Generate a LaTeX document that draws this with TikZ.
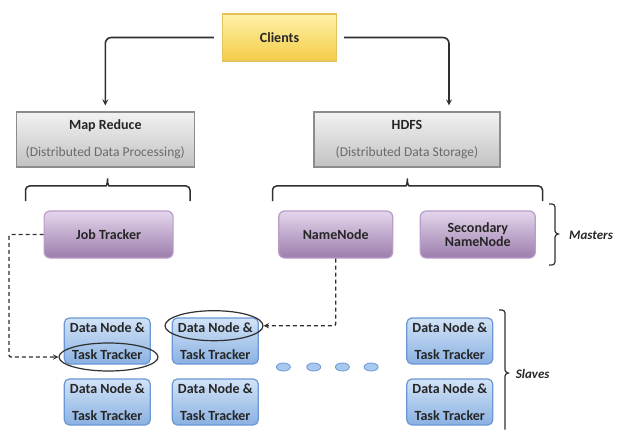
\documentclass[tikz,border=0pt]{standalone}
\usepackage{fontspec}
\setmainfont{Carlito}
\usetikzlibrary{shapes.geometric}
\usetikzlibrary{arrows}

\definecolor{txtgray}{HTML}{262626}
\definecolor{subgray}{HTML}{6A6A6A}
\definecolor{linegray}{HTML}{303030}
\definecolor{clienttop}{HTML}{FFF1A8}
\definecolor{clientbot}{HTML}{F4CC48}
\definecolor{clientline}{HTML}{E6C25C}
\definecolor{layertop}{HTML}{F2F2F2}
\definecolor{layerbot}{HTML}{C2C2C2}
\definecolor{layerline}{HTML}{8C8C8C}
\definecolor{mastertop}{HTML}{E4D6EC}
\definecolor{masterbot}{HTML}{9C7DAC}
\definecolor{masterline}{HTML}{B99CC7}
\definecolor{slavetop}{HTML}{D2E3F7}
\definecolor{slavebot}{HTML}{8AB1E2}
\definecolor{slaveline}{HTML}{6A97D6}
\definecolor{dotfill}{HTML}{A9C8EE}

\newcommand{\layersub}[1]{{\fontsize{13.5}{14}\selectfont\mdseries\color{subgray}#1}}

\begin{document}
\begin{tikzpicture}[x=1pt,y=-1pt,
    box/.style={draw, line width=1.2pt, inner sep=0pt, align=center, text=txtgray,
        font=\fontsize{14}{14}\selectfont\bfseries},
    clientbox/.style={box, draw=clientline, top color=clienttop, bottom color=clientbot,
        minimum width=114pt, minimum height=47pt},
    layerbox/.style={box, draw=layerline, top color=layertop, bottom color=layerbot,
        minimum height=55pt},
    masterbox/.style={box, rounded corners=6pt, draw=masterline, top color=mastertop,
        bottom color=masterbot, minimum height=47pt},
    slavebox/.style={box, rounded corners=5pt, draw=slaveline, top color=slavetop,
        bottom color=slavebot, minimum width=86pt, minimum height=46pt},
    gapdot/.style={ellipse, draw=slaveline, fill=dotfill, line width=0.8pt,
        minimum width=14pt, minimum height=8pt, inner sep=0pt},
    ring/.style={ellipse, draw=linegray, line width=1.2pt, inner sep=0pt},
    feed/.style={draw=linegray, line width=1.6pt, rounded corners=6pt, -stealth},
    ctrl/.style={draw=linegray, dash pattern=on 4pt off 3pt, line width=1.4pt,
        rounded corners=2pt, -stealth},
    grp/.style={draw=linegray, line width=1.5pt, rounded corners=4pt},
    grplabel/.style={anchor=west, inner sep=0pt, text=txtgray,
        font=\fontsize{13}{13}\selectfont\bfseries\itshape},
]
    \useasboundingbox (0,0) rectangle (617,430);

    % top level
    \node[clientbox] (cl) at (279.5,37.5) {Clients};
    \node[layerbox, minimum width=178pt] (mr) at (105.3,139.5)
        {Map Reduce\\[13pt]\layersub{(Distributed Data Processing)}};
    \node[layerbox, minimum width=186pt] (hdfs) at (407,139.5)
        {HDFS\\[13pt]\layersub{(Distributed Data Storage)}};

    \draw[feed, shorten <=8pt, shorten >=6pt] (cl.west) -| (mr.north);
    \draw[feed, shorten <=7pt, shorten >=6pt] (cl.east) -| ([xshift=42pt]hdfs.north);

    % masters
    \node[masterbox, minimum width=129pt] (jt) at (108.6,234.5) {Job Tracker};
    \node[masterbox, minimum width=114pt] (nn) at (335.7,234.5) {NameNode};
    \node[masterbox, minimum width=115pt] (snn) at (477.8,234.5) {Secondary\\NameNode};

    \draw[grp] (25.5,201) -- (25.5,186) -- (102,186)
        .. controls (106,186) and (107.5,184) .. (107.5,176)
        .. controls (107.5,184) and (109,186) .. (113,186) -- (190,186) -- (190,201);
    \draw[grp] (272.5,201) -- (272.5,186) -- (402,186)
        .. controls (406,186) and (407.3,184) .. (407.3,176)
        .. controls (407.3,184) and (409,186) .. (413,186) -- (542.5,186) -- (542.5,201);
    \draw[grp, line width=1.2pt, rounded corners=3pt] (549,204) -- (555,204) -- (555,228)
        .. controls (555,232) and (556.5,234) .. (561,234)
        .. controls (556.5,234) and (555,236) .. (555,240) -- (555,265) -- (549,265);
    \node[grplabel] (mlabel) at (569,235) {Masters};

    % slaves
    \foreach \col/\x in {1/107.3, 2/215.3, 3/449.8}{
        \node[slavebox] (dn\col a) at (\x,341) {Data Node \&\\[13pt]Task Tracker};
        \node[slavebox] (dn\col b) at (\x,402) {Data Node \&\\[13pt]Task Tracker};
    }
    \foreach \i/\x in {1/283.4, 2/313.7, 3/342.4, 4/371.1}
        \node[gapdot] (gap\i) at (\x,367) {};

    \draw[grp, line width=1.2pt, rounded corners=3pt] (499,310) -- (505,310) -- (505,367)
        .. controls (505,371) and (506.5,373) .. (511,373)
        .. controls (506.5,373) and (505,375) .. (505,379) -- (505,429.5);
    \node[grplabel] (slabel) at (515.6,374) {Slaves};

    % daemons talking to the slaves
    \node[ring, minimum width=99pt, minimum height=28pt] (tt1) at (108.5,357) {};
    \node[ring, minimum width=98pt, minimum height=30pt] (dn2) at (214,325.7) {};

    \draw[ctrl] (jt.west) -- ++(-34.5,0) |- (tt1.west);
    \draw[ctrl] (nn.south) |- (dn2.east);
\end{tikzpicture}
\end{document}
